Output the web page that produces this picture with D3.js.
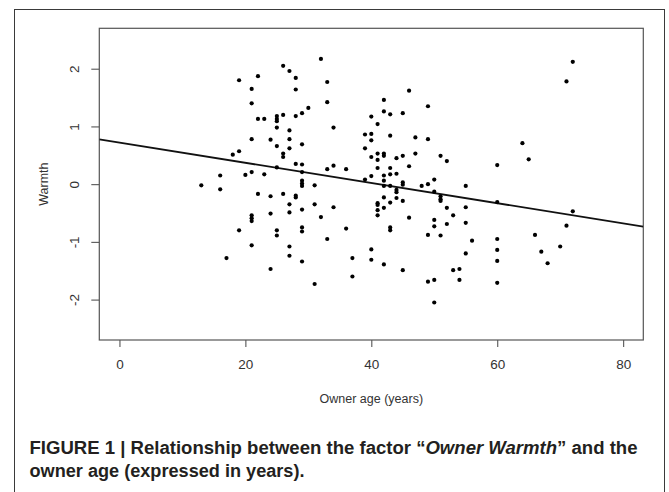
<!DOCTYPE html>
<html>
<head>
<meta charset="utf-8">
<script src="https://cdn.jsdelivr.net/npm/d3@7"></script>
<style>
  body { margin: 0; background: #fff; }
  svg { display: block; font-family: "Liberation Sans", Arial, sans-serif; }
</style>
</head>
<body>
<svg></svg>
<script>
// owner age (years) and warmth factor score, one entry per dog owner
let ownerAge = [
  13, 16, 16, 17, 18, 19, 19, 19, 20,
  21, 21, 21, 21, 21, 21, 21, 21,
  22, 22, 22, 23, 23, 24, 24, 24, 24,
  25, 25, 25, 25, 25, 25, 25, 25,
  26, 26, 26, 26, 26,
  27, 27, 27, 27, 27, 27, 27, 27,
  28, 28, 28, 28, 28, 28,
  29, 29, 29, 29, 29, 29, 29, 29, 29, 29, 29,
  30, 31, 31, 31, 32, 32, 33, 33, 33, 33, 34, 34, 34,
  36, 36, 37, 37, 39, 39, 39,
  40, 40, 40, 40, 40, 40, 40,
  41, 41, 41, 41, 41, 41, 41, 41,
  42, 42, 42, 42, 42, 42, 42, 42, 42, 42,
  43, 43, 43, 43, 43, 43, 43, 43,
  44, 44, 44, 44, 44,
  45, 45, 45, 45, 45, 45,
  46, 46, 46, 47, 47, 48,
  49, 49, 49, 49, 49,
  50, 50, 50, 50, 50, 50,
  51, 51, 51, 51, 51,
  52, 52, 52, 53, 53, 54, 54,
  55, 55, 55, 55, 56,
  60, 60, 60, 60, 60, 60,
  64, 65, 66, 67, 68, 70, 71, 71, 72, 72
]
let warmth = [
  -0.02, 0.15, -0.09, -1.28, 0.51, 0.57, 1.80, -0.80, 0.16,
  1.65, 1.40, 0.78, 0.21, -0.54, -0.59, -0.64, -1.06,
  1.87, 1.13, -0.17, 1.13, 0.17, 0.77, -0.21, -0.51, -1.47,
  1.18, 1.13, 1.09, 0.98, 0.66, 0.29, -0.80, -0.89,
  2.05, 1.20, 0.53, 0.47, -0.17,
  1.96, 0.93, 0.78, 0.62, -0.35, -0.49, -1.08, -1.24,
  1.84, 1.64, 1.18, 0.35, -0.20, -0.23,
  1.23, 0.69, 0.34, 0.21, 0.06, 0.01, -0.03, -0.44, -0.75, -0.82, -1.34,
  1.32, -0.02, -0.35, -1.73, 2.17, -0.57, 1.77, 1.42, 0.26, -0.95, 0.98, 0.32, -0.40,
  0.26, -0.77, -1.28, -1.60, 0.86, 0.62, 0.08,
  1.17, 0.87, 0.76, 0.47, 0.14, -1.13, -1.31,
  1.04, 0.53, 0.42, 0.28, -0.33, -0.36, -0.45, -0.54,
  1.46, 1.26, 0.53, 0.49, 0.15, 0.06, -0.03, -0.23, -0.41, -1.39,
  1.21, 0.84, 0.28, 0.17, -0.03, -0.32, -0.75, -0.80,
  0.45, 0.18, -0.10, -0.14, -0.24,
  1.23, 0.49, 0.03, -0.01, -0.29, -1.49,
  1.62, 0.31, -0.58, 0.81, 0.53, -0.03,
  1.35, 0.78, 0.00, -0.88, -1.69,
  0.08, -0.13, -0.62, -0.73, -1.66, -2.05,
  0.49, -0.21, -0.26, -0.29, -0.89,
  0.40, -0.41, -0.69, -0.54, -1.49, -1.47, -1.66,
  -0.03, -0.40, -0.67, -1.20, -0.98,
  0.33, -0.31, -0.95, -1.14, -1.33, -1.71,
  0.71, 0.43, -0.88, -1.17, -1.37, -1.08, 1.78, -0.72, 2.12, -0.47
]

// fitted line (abline of lm)
let fitIntercept = 0.72
let fitSlope = -0.0175

let xTicks = [0, 20, 40, 60, 80]
let yTicks = [-2, -1, 0, 1, 2]
let xLim = [0, 80]
let yLim = [-2.5, 2.5]

let w = 669
let h = 492
let plotLeft = 99.3, plotRight = 643.3, plotTop = 28.3, plotBottom = 340

let svg = d3.select('svg').attr('width', w).attr('height', h)

// figure frame
svg.append('rect')
  .attr('x', 14.5).attr('y', 9.5)
  .attr('width', 650).attr('height', 500)
  .attr('fill', 'none').attr('stroke', '#3a3a3a').attr('stroke-width', 1)

// R style 4% axis extension
let xPad = (xLim[1] - xLim[0]) * 0.04
let yPad = (yLim[1] - yLim[0]) * 0.04

let xScale = d3.scaleLinear()
  .domain([xLim[0] - xPad, xLim[1] + xPad])
  .range([plotLeft, plotRight])

let yScale = d3.scaleLinear()
  .domain([yLim[0] - yPad, yLim[1] + yPad])
  .range([plotBottom, plotTop])

let xAxis = d3.axisBottom(xScale).tickValues(xTicks).tickSize(7).tickPadding(12)
  .tickFormat((d) => String(d))
let yAxis = d3.axisLeft(yScale).tickValues(yTicks).tickSize(8)
  .tickFormat((d) => String(d))

let gx = svg.append('g')
  .attr('transform', 'translate(0, ' + plotBottom + ')')
  .call(xAxis)
gx.select('.domain').remove()
gx.selectAll('line').attr('stroke', '#555').attr('stroke-width', 1.1)
gx.selectAll('text')
  .attr('font-size', 13.5)
  .attr('fill', '#333')
  .attr('font-family', '"Liberation Sans", Arial, sans-serif')

let gy = svg.append('g')
  .attr('transform', 'translate(' + plotLeft + ', 0)')
  .call(yAxis)
gy.select('.domain').remove()
gy.selectAll('line').attr('stroke', '#555').attr('stroke-width', 1.1)
gy.selectAll('text')
  .attr('font-size', 13.5)
  .attr('fill', '#333')
  .attr('font-family', '"Liberation Sans", Arial, sans-serif')
  .attr('text-anchor', 'middle')
  .attr('x', 0)
  .attr('y', -25)
  .attr('dy', '0.35em')
  .attr('transform', 'rotate(-90)')

// plot box
svg.append('rect')
  .attr('x', plotLeft).attr('y', plotTop)
  .attr('width', plotRight - plotLeft).attr('height', plotBottom - plotTop)
  .attr('fill', 'none').attr('stroke', '#555').attr('stroke-width', 1.2)

// axis titles
svg.append('text')
  .attr('x', (plotLeft + plotRight) / 2)
  .attr('y', 402.5)
  .attr('text-anchor', 'middle')
  .attr('font-size', 12.5)
  .attr('fill', '#333')
  .text('Owner age (years)')

svg.append('text')
  .attr('transform', 'translate(43.5, ' + ((plotTop + plotBottom) / 2) + ') rotate(-90)')
  .attr('text-anchor', 'middle')
  .attr('dy', '0.35em')
  .attr('font-size', 12.5)
  .attr('fill', '#333')
  .text('Warmth')

// regression line, clipped to the plot region
svg.append('clipPath').attr('id', 'plotclip')
  .append('rect')
  .attr('x', plotLeft).attr('y', plotTop)
  .attr('width', plotRight - plotLeft).attr('height', plotBottom - plotTop)

let xd = xScale.domain()
svg.append('line')
  .attr('clip-path', 'url(#plotclip)')
  .attr('x1', xScale(xd[0])).attr('y1', yScale(fitIntercept + fitSlope * xd[0]))
  .attr('x2', xScale(xd[1])).attr('y2', yScale(fitIntercept + fitSlope * xd[1]))
  .attr('stroke', '#111').attr('stroke-width', 1.8)

// points
svg.append('g')
  .selectAll('circle')
  .data(d3.zip(ownerAge, warmth))
  .enter()
  .append('circle')
  .attr('cx', (d) => xScale(d[0]))
  .attr('cy', (d) => yScale(d[1]))
  .attr('r', 2.1)
  .attr('fill', '#000')

// caption
let cap1 = svg.append('text')
  .attr('x', 29.5).attr('y', 454)
  .attr('font-size', 17.5)
  .attr('font-weight', 'bold')
  .attr('fill', '#231f20')
  .attr('textLength', 608)
  .attr('lengthAdjust', 'spacingAndGlyphs')
cap1.append('tspan').text('FIGURE 1 | Relationship between the factor \u201C')
cap1.append('tspan').attr('font-style', 'italic').text('Owner Warmth')
cap1.append('tspan').text('\u201D and the')

svg.append('text')
  .attr('x', 29.5).attr('y', 477)
  .attr('font-size', 17.5)
  .attr('font-weight', 'bold')
  .attr('fill', '#231f20')
  .attr('textLength', 275)
  .attr('lengthAdjust', 'spacingAndGlyphs')
  .text('owner age (expressed in years).')
</script>
</body>
</html>
